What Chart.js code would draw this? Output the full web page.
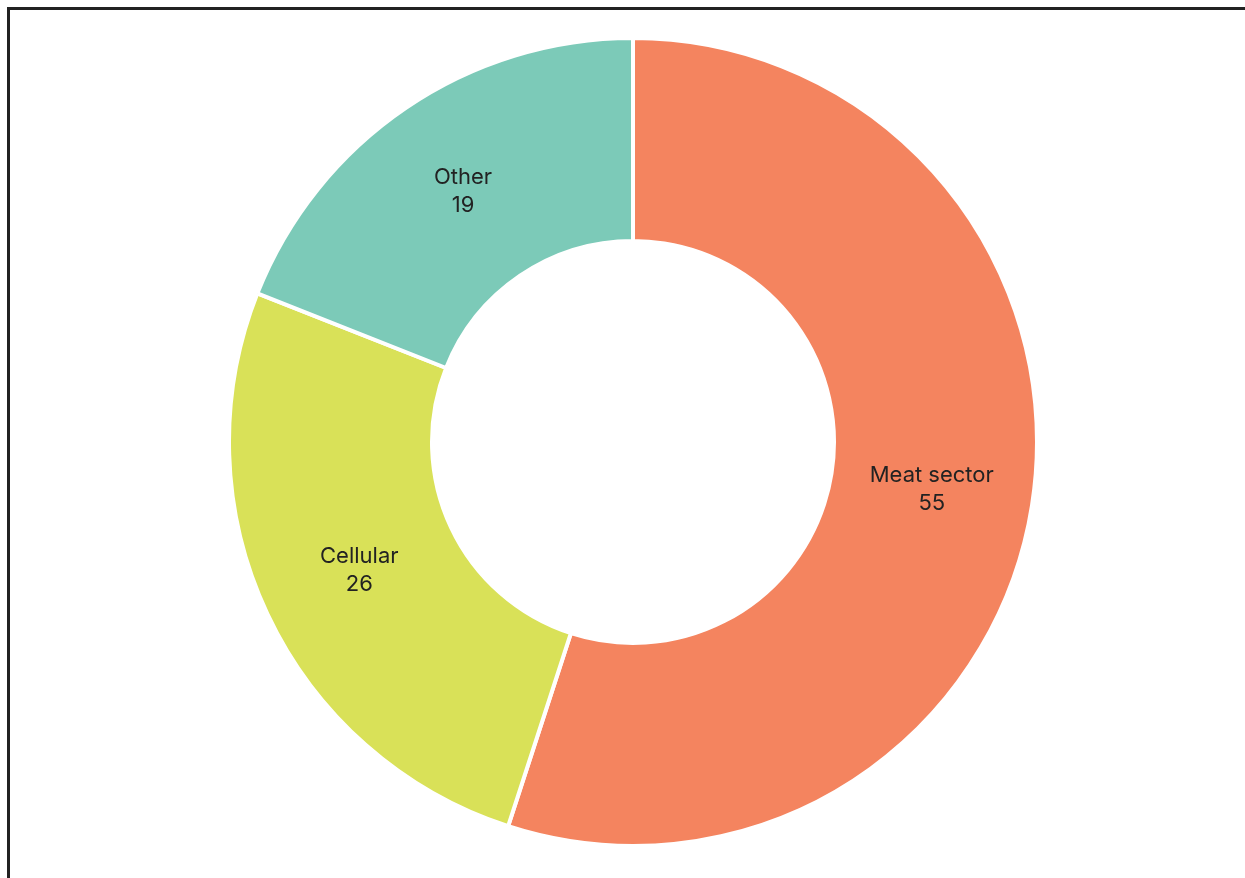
<!DOCTYPE html>
<html>
<head>
<meta charset="utf-8">
<script src="https://cdn.jsdelivr.net/npm/chart.js@4.4.0/dist/chart.umd.min.js"></script>
<style>
  html, body { margin: 0; padding: 0; background: #fff; overflow: hidden; }
  body { width: 1245px; height: 878px; position: relative; }
  #frame {
    position: absolute; left: 7px; top: 7px;
    width: 1260px; height: 900px;
    border-left: 3px solid #222; border-top: 3px solid #222;
  }
  #wrap { position: absolute; left: 227px; top: 36px; width: 812px; height: 812px; }
</style>
</head>
<body>
<div id="frame"></div>
<div id="wrap"><canvas id="myChart"></canvas></div>
<script>
// 各類別與數值
const labels = ['Meat sector', 'Cellular', 'Other'];
const values = [55, 26, 19];
const colors = ['#F4845F', '#D9E158', '#7CCAB8'];

// 在每個扇形中間寫上名稱與數值
const sliceLabels = {
  id: 'sliceLabels',
  afterDatasetsDraw(chart) {
    const ctx = chart.ctx;
    const meta = chart.getDatasetMeta(0);
    ctx.save();
    ctx.font = '22px Inter, "Noto Sans", sans-serif';
    ctx.fillStyle = '#222222';
    ctx.textAlign = 'center';
    ctx.textBaseline = 'middle';
    meta.data.forEach(function(arc, i) {
      const p = arc.tooltipPosition();
      ctx.fillText(labels[i], p.x, p.y - 14);
      ctx.fillText(String(values[i]), p.x, p.y + 14);
    });
    ctx.restore();
  }
};

const ctx = document.getElementById('myChart');

var chart = new Chart(ctx, {
  type: 'doughnut',
  data: {
    labels: labels,
    datasets: [{
      data: values,
      backgroundColor: colors,
      borderColor: '#ffffff',
      borderWidth: 4,
      hoverOffset: 0
    }]
  },
  options: {
    responsive: true,
    maintainAspectRatio: false,
    animation: false,
    cutout: '49.75%',
    layout: { padding: 0 },
    plugins: {
      legend: { display: false },
      tooltip: { enabled: false }
    }
  },
  plugins: [sliceLabels]
});
</script>
</body>
</html>
